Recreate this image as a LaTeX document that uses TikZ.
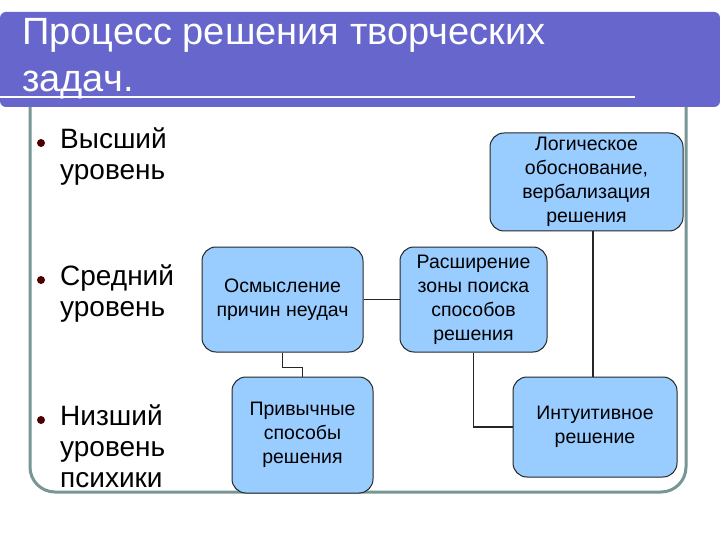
\documentclass[tikz,border=0pt]{standalone}
\usepackage{fontspec}
\setmainfont{Liberation Sans}
\begin{document}
\begin{tikzpicture}[x=1pt,y=-1pt,
  bx/.style={draw=black!85,line width=1pt,rounded corners=14pt,align=center,font=\fontsize{19.5}{24}\selectfont,inner sep=0pt},
  ln/.style={line width=1.8pt,black!85},
  bul/.style={align=left,anchor=north west,font=\fontsize{28}{31}\selectfont,inner sep=0pt}]
\useasboundingbox (0,0) rectangle (720,540);
\fill[white] (0,0) rectangle (720,540);
\definecolor{tb}{RGB}{102,102,204}
\definecolor{fr}{RGB}{120,150,150}
\definecolor{bf}{RGB}{153,204,255}
\draw[fr,line width=3pt,rounded corners=25pt] (30,100) -- (30,492) -- (686,492) -- (686,100);
\fill[tb,rounded corners=6pt] (0,12) rectangle (720,107);
\draw[white,line width=2pt] (0,97) -- (635,97);
\node[anchor=north west,align=left,text=white,font=\fontsize{38}{47}\selectfont,inner sep=0pt] (t) at (22,18) {Процесс решения творческих\\задач.};
\foreach \y/\n/\s in {128/b1/{Высший\\уровень},265/b2/{Средний\\уровень},405/b3/{Низший\\уровень\\психики}}{
  \fill[black!70!red] (41,\y+15) circle (4);
  \node[bul] (\n) at (60,\y) {\s};
}
\tikzset{bx/.append style={fill=bf}}
\node[bx,minimum width=193,minimum height=98] (A) at (586.5,182) {Логическое\\обоснование,\\вербализация\\решения};
\node[bx,minimum width=161,minimum height=105] (B) at (282.5,299.5) {Осмысление\\причин неудач};
\node[bx,minimum width=147,minimum height=105] (C) at (473.5,299.5) {Расширение\\зоны поиска\\способов\\решения};
\node[bx,minimum width=141,minimum height=116] (D) at (302.5,435) {Привычные\\способы\\решения};
\node[bx,minimum width=164,minimum height=100] (E) at (595,427) {Интуитивное\\решение};
\draw[ln] (B.east) -- (C.west);
\draw[ln] (B.south) -- ++(0,15) -| (D.north);
\draw[ln] (C.south) |- (E.west);
\draw[ln] (A.south -| 593,0) -- (E.north -| 593,0);
\end{tikzpicture}
\end{document}
